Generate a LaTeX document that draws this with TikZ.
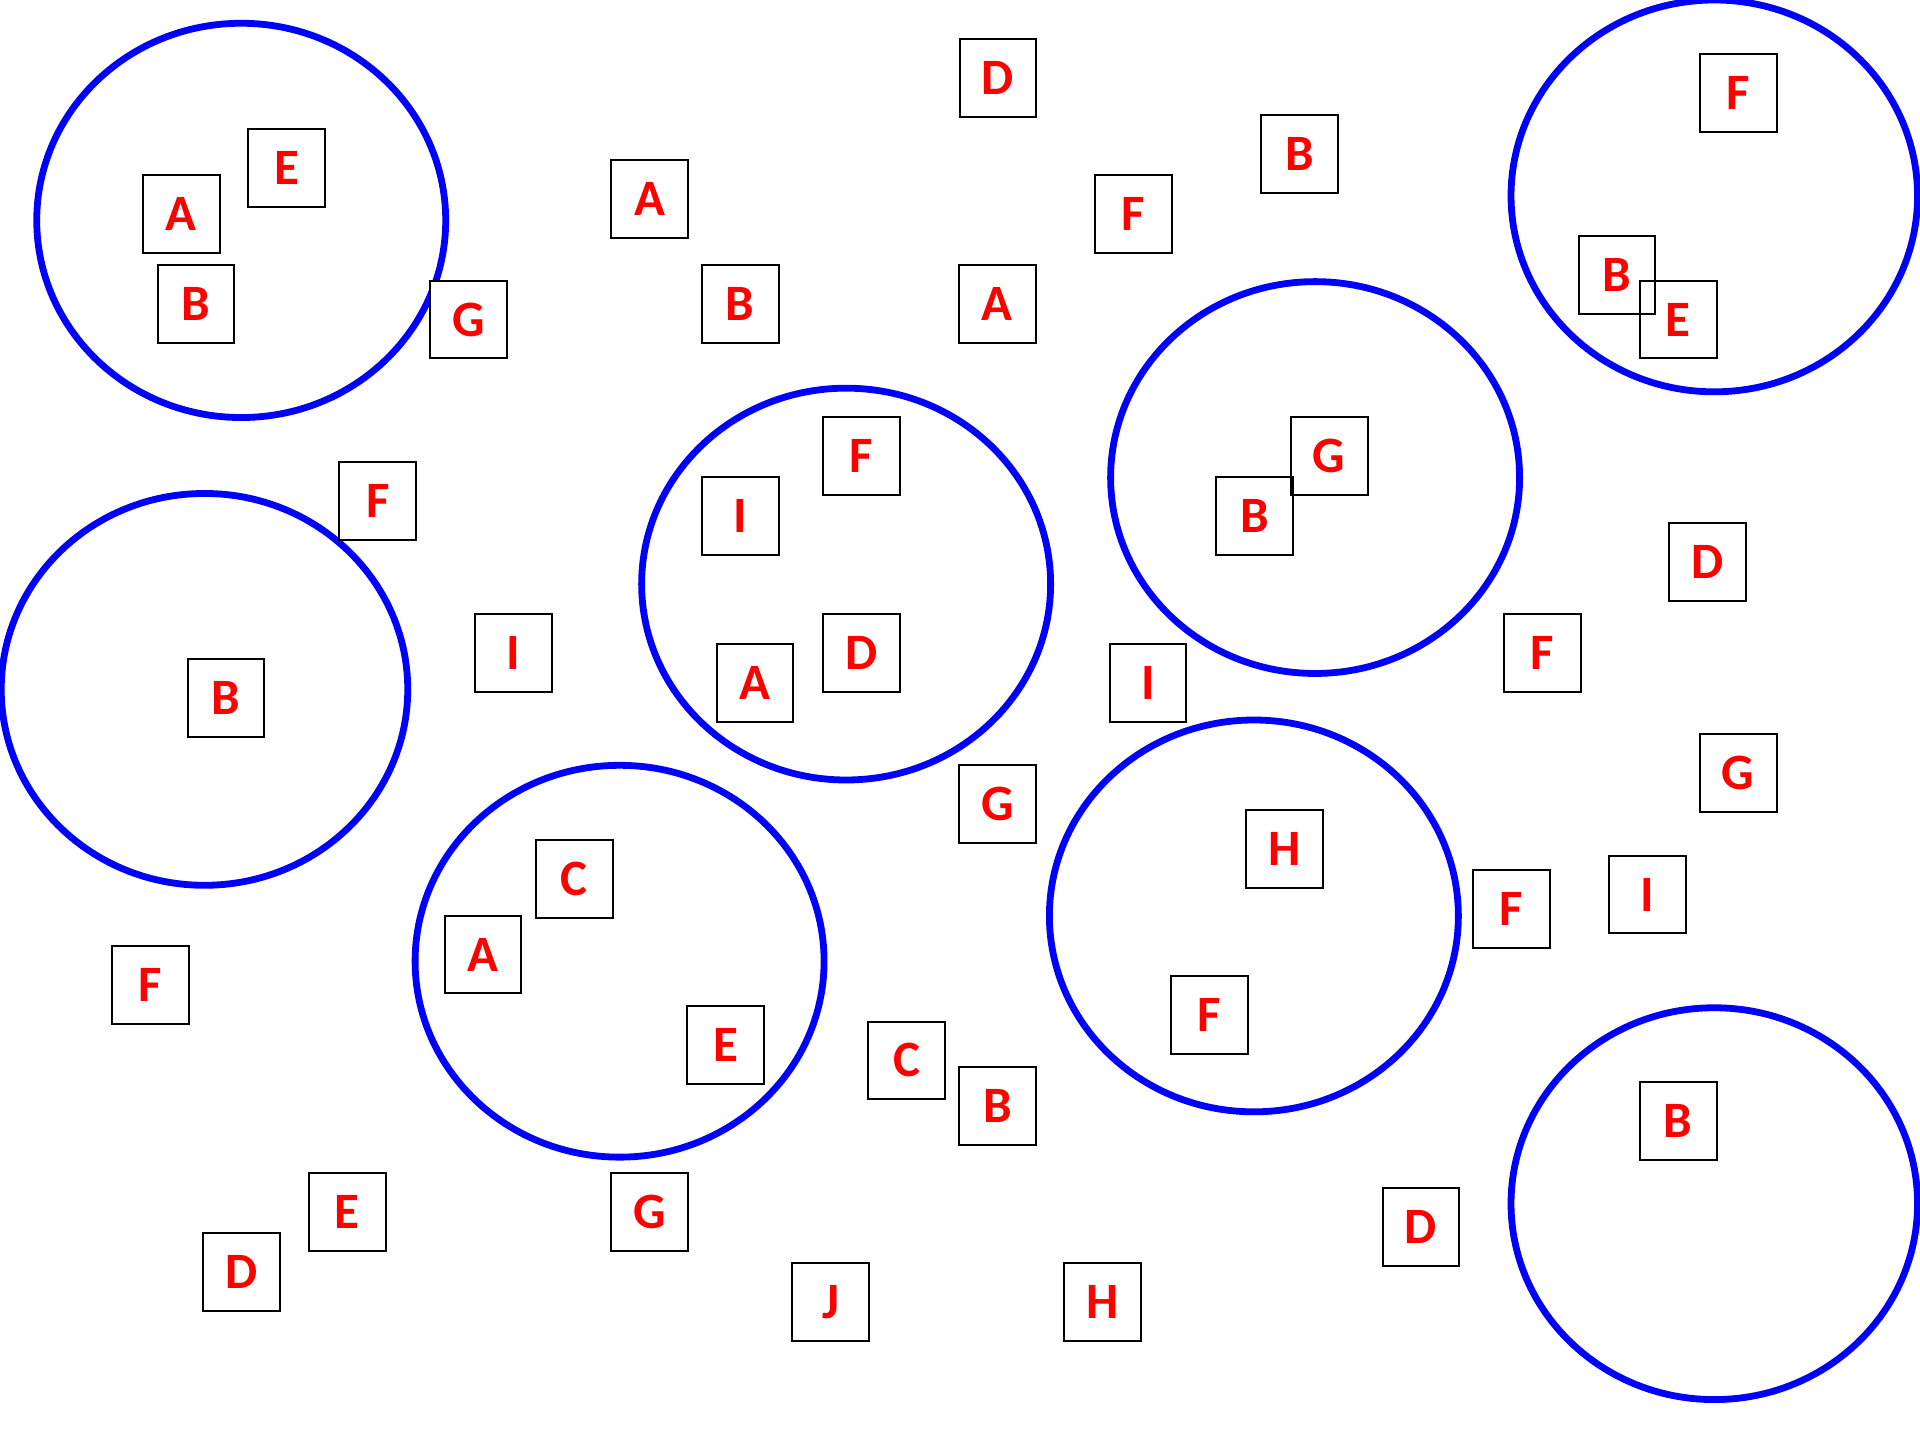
\documentclass[tikz,border=0pt]{standalone}
\usepackage{fontspec}
\setmainfont{Carlito}
\definecolor{ringblue}{RGB}{0,0,255}
\definecolor{letterred}{RGB}{255,0,0}
\tikzset{
  ring/.style={draw=ringblue, line width=3.4pt},
  lbox/.style={fill=white, draw=none, minimum width=38pt, minimum height=38.5pt, inner sep=0pt,
    text=letterred, font=\fontsize{25.5}{25.5}\selectfont\bfseries},
  lframe/.style={draw=black, line width=1pt}
}
\begin{document}
\begin{tikzpicture}[x=0.6122pt, y=-0.6122pt]
\useasboundingbox (0,0) rectangle (1568,1176);
% rings
\draw[ring] (197,180) ellipse [x radius=167, y radius=161];
\draw[ring] (167,563) ellipse [x radius=166, y radius=160];
\draw[ring] (691,477) ellipse [x radius=167, y radius=160];
\draw[ring] (1074,390) ellipse [x radius=167, y radius=160];
\draw[ring] (1400,160) ellipse [x radius=166, y radius=160];
\draw[ring] (506,785) ellipse [x radius=167, y radius=160];
\draw[ring] (1024,748) ellipse [x radius=167, y radius=160];
\draw[ring] (1400,983) ellipse [x radius=166, y radius=160];
% letter boxes
\def\boxlist{b1/815/63.5/D, b2/148/174.5/A, b3/234/137.5/E, b4/160/248.5/B, b5/382.5/261/G,
  b6/530.5/162.5/A, b7/604.5/248.5/B, b8/814.5/248.5/A, b9/925.5/174.5/F, b10/1061.5/125.5/B,
  b11/1419.5/76/F, b12/1320.5/224.5/B, b13/1370.5/261/E, b14/308.5/409/F, b15/184.5/570/B,
  b16/419.5/533/I, b17/604.5/421.5/I, b18/703.5/372.5/F, b19/616.5/557.5/A, b20/703.5/533/D,
  b21/1085.5/372.5/G, b22/1024.5/421.5/B, b23/1394.5/459/D, b24/1259.5/533/F, b25/937.5/557.5/I,
  b26/814.5/656.5/G, b27/1419.5/631.5/G, b28/1049/693.5/H, b29/1234.5/742.5/F, b30/1345.5/730.5/I,
  b31/987.5/829/F, b32/469/718/C, b33/394.5/779.5/A, b34/592.5/853.5/E, b35/123/804.5/F,
  b36/740.5/866/C, b37/814.5/903.5/B, b38/1370.5/915.5/B, b39/1160.5/1002/D, b40/283.5/989.5/E,
  b41/197.5/1039/D, b42/530.5/989.5/G, b43/678.5/1063.5/J, b44/900.5/1063.5/H}
\foreach \n/\x/\y/\t in \boxlist {
  \node[lbox] (\n) at (\x,\y) {\t};
}
\foreach \n/\x/\y/\t in \boxlist {
  \draw[lframe] (\n.south west) rectangle (\n.north east);
}
\end{tikzpicture}
\end{document}
